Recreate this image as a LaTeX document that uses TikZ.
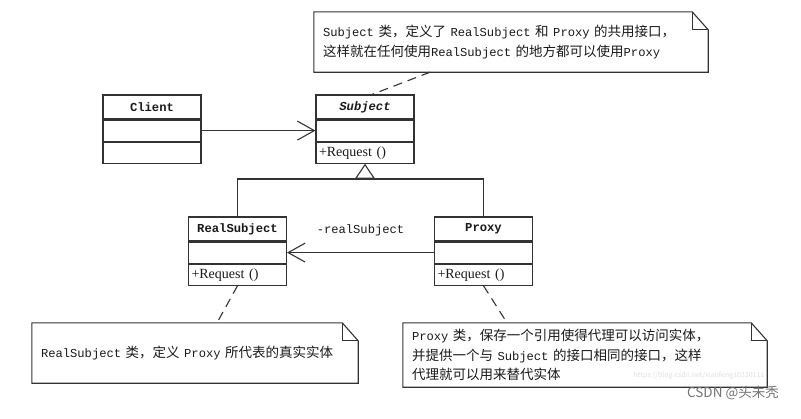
\documentclass[tikz,border=0pt]{standalone}
\usepackage{fontspec}
\usepackage{xcolor}
\usepackage{tikz}
\usetikzlibrary{positioning,arrows.meta}
\setmainfont{Noto Sans CJK SC}
\newfontfamily\mono[Scale=0.9]{Liberation Mono}
\newfontfamily\classfont{Liberation Mono}
\newfontfamily\opfont{Liberation Serif}
\definecolor{umlline}{HTML}{333333}
\definecolor{umltext}{HTML}{1A1A1A}
\tikzstyle{classname} = [rectangle, minimum width=98pt, minimum height=24pt, inner sep=0pt, text centered, draw=umlline, line width=1.1pt, text=umltext, font=\classfont\fontsize{12.2}{14}\selectfont\bfseries]
\tikzstyle{classpart} = [rectangle, minimum width=98pt, minimum height=21pt, inner xsep=3pt, inner ysep=0pt, text width=92pt, align=left, draw=umlline, line width=1.1pt, text=umltext, font=\opfont\fontsize{14}{15}\selectfont]
\tikzstyle{note} = [rectangle, minimum height=60pt, inner xsep=9pt, inner ysep=0pt, align=left, text=umltext, font=\fontsize{13.5}{19.5}\selectfont]
\tikzstyle{noteline} = [draw=umlline, line width=1.1pt, line join=miter]
\tikzstyle{line} = [draw=umlline, line width=1.1pt]
\tikzstyle{assoc} = [line, ->, >={Straight Barb[length=17pt,width=19pt]}]
\tikzstyle{generalize} = [line, -{Triangle[open,length=15pt,width=20pt,fill=white]}]
\tikzstyle{anchorline} = [line, dash pattern=on 9pt off 6pt]
\tikzstyle{role} = [text=umltext, font=\mono\fontsize{13.5}{15}\selectfont]
\tikzstyle{watermark} = [text=black!55, font=\fontsize{13.5}{15}\selectfont]
\newcommand{\drawnote}[1]{%
  \draw [noteline] (#1.north west) -- ([xshift=-16pt]#1.north east) -- ([yshift=-18pt]#1.north east) -- (#1.south east) -- (#1.south west) -- cycle;
  \draw [noteline] ([xshift=-16pt]#1.north east) |- ([yshift=-18pt]#1.north east);}

\begin{document}
\begin{tikzpicture}[x=1pt, y=-1pt]
    \useasboundingbox [fill=white] (0,0) rectangle (801,418);

    % Classes
    \node (clientname) [classname] at (152,107) {Client};
    \node (clientattr) [classpart, below=0pt of clientname] {};
    \node (clientop) [classpart, below=0pt of clientattr] {};

    \node (subjectname) [classname, font=\classfont\fontsize{12.2}{14}\selectfont\bfseries\itshape] at (365,107) {Subject};
    \node (subjectattr) [classpart, below=0pt of subjectname] {};
    \node (subjectop) [classpart, below=0pt of subjectattr] {+Request ()};

    \node (realname) [classname] at (237.5,229) {RealSubject};
    \node (realattr) [classpart, below=0pt of realname] {};
    \node (realop) [classpart, below=0pt of realattr] {+Request ()};

    \node (proxyname) [classname] at (483.5,229) {Proxy};
    \node (proxyattr) [classpart, below=0pt of proxyname] {};
    \node (proxyop) [classpart, below=0pt of proxyattr] {+Request ()};

    % Notes
    \node (subjnote) [note, minimum width=394pt, text width=376pt] at (511,42) {{\mono Subject} 类，定义了 {\mono RealSubject} 和 {\mono Proxy} 的共用接口，\\这样就在任何使用{\mono RealSubject} 的地方都可以使用{\mono Proxy}};
    \node (realnote) [note, minimum width=326pt, text width=308pt] at (195,353) {{\mono RealSubject} 类，定义 {\mono Proxy} 所代表的真实实体};
    \node (proxynote) [note, minimum width=364pt, minimum height=64pt, text width=346pt] at (585,355) {{\mono Proxy} 类，保存一个引用使得代理可以访问实体，\\并提供一个与 {\mono Subject} 的接口相同的接口，这样\\代理就可以用来替代实体};
    \drawnote{subjnote}
    \drawnote{realnote}
    \drawnote{proxynote}

    % Arrows
    \coordinate (hub) at (365,179);
    \draw [line] (realname.north) |- (hub) -| (proxyname.north);
    \draw [generalize] (hub) -- (subjectop.south);
    \draw [assoc] (clientattr) -- (subjectattr);
    \draw [assoc] (proxyattr) -- node [role, midway, yshift=22pt] {-realSubject} (realattr);
    \draw [anchorline] ([xshift=-81pt]subjnote.south) -- ([xshift=7pt]subjectname.north);
    \draw [anchorline] (realop.south) -- ([xshift=22pt]realnote.north);
    \draw [anchorline] (proxyop.south) -- ([xshift=-78pt]proxynote.north);

    % Watermarks
    \node (blogurl) [text=black!12, font=\fontsize{7}{8}\selectfont] at (699,376) {https://blog.csdn.net/xiaofeng10330111};
    \node (csdn) [watermark] at (733,393) {CSDN @头未秃};

\end{tikzpicture}
\end{document}
